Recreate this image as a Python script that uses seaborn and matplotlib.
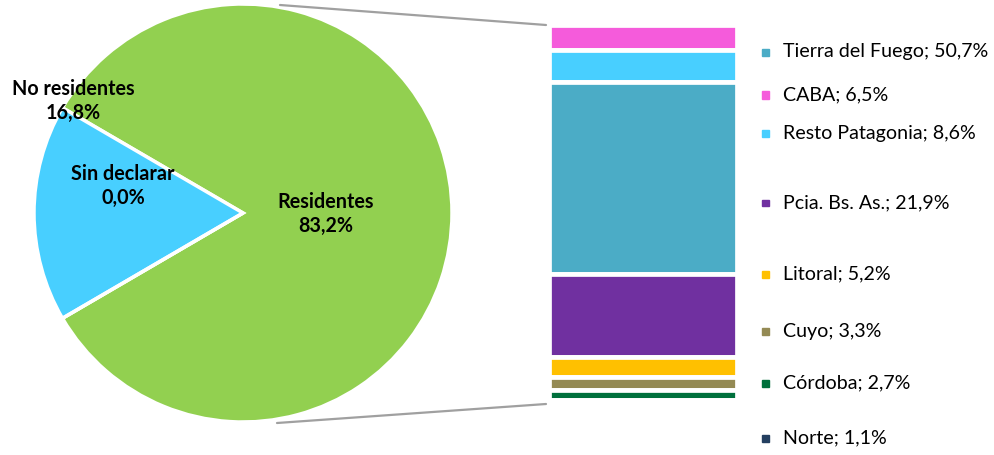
import matplotlib
matplotlib.use("Agg")
import matplotlib.pyplot as plt
from matplotlib.lines import Line2D
import seaborn as sns

# Pie: visitor origin
pie_labels = ["Residentes", "No residentes", "Sin declarar"]
pie_values = [83.2, 16.8, 0.0]
pie_colors = ["#92D050", "#48CFFF", "#9BBB59"]

# Bar: breakdown of residents by region (top to bottom in the bar)
bar_labels = ["CABA", "Resto Patagonia", "Tierra del Fuego", "Pcia. Bs. As.",
              "Litoral", "Cuyo", "Córdoba", "Norte"]
bar_values = [6.5, 8.6, 50.7, 21.9, 5.2, 3.3, 2.7, 1.1]
bar_colors = ["#F55BDB", "#48CFFF", "#4BACC6", "#7030A0",
              "#FFC000", "#948A54", "#00703C", "#243F60"]

# Legend order
legend_labels = ["Tierra del Fuego", "CABA", "Resto Patagonia", "Pcia. Bs. As.",
                 "Litoral", "Cuyo", "Córdoba", "Norte"]
legend_values = [50.7, 6.5, 8.6, 21.9, 5.2, 3.3, 2.7, 1.1]
legend_colors = ["#4BACC6", "#F55BDB", "#48CFFF", "#7030A0",
                 "#FFC000", "#948A54", "#00703C", "#243F60"]

sns.set_theme(style="white")
plt.rcParams["font.family"] = ["Lato", "DejaVu Sans"]

W, H = 994, 455
fig = plt.figure(figsize=(W / 100, H / 100), dpi=100)


def px_axes(x0, y0, x1, y1):
    return fig.add_axes([x0 / W, 1 - y1 / H, (x1 - x0) / W, (y1 - y0) / H])


def fx(x):
    return x / W


def fy(y):
    return 1 - y / H


def pct(v):
    return f"{v:.1f}%".replace(".", ",")


# ---- pie ----
ax_pie = px_axes(34, 4, 452, 422)
ax_pie.pie(pie_values, colors=pie_colors, startangle=210.25, counterclock=True,
           radius=1.0, wedgeprops=dict(edgecolor="white", linewidth=2.5))
ax_pie.set_xlim(-1, 1)
ax_pie.set_ylim(-1, 1)
ax_pie.set_aspect("equal")
ax_pie.axis("off")

label_kw = dict(ha="center", va="center", fontsize=14.2, fontweight="bold",
                color="black", linespacing=1.3)
fig.text(fx(326), fy(214), f"{pie_labels[0]}\n{pct(pie_values[0])}", **label_kw)
fig.text(fx(73), fy(101), f"{pie_labels[1]}\n{pct(pie_values[1])}", **label_kw)
fig.text(fx(123), fy(186), f"{pie_labels[2]}\n{pct(pie_values[2])}", **label_kw)

# ---- stacked bar ----
ax_bar = px_axes(549, 25, 737, 404)
bottom = 0.0
for lab, val, col in zip(bar_labels, bar_values, bar_colors):
    sns.barplot(x=[0], y=[val], bottom=bottom, color=col, width=1.0,
                edgecolor="white", linewidth=3.4, ax=ax_bar, saturation=1)
    bottom += val
ax_bar.set_xlim(-0.5, 0.5)
ax_bar.set_ylim(100, 0)
ax_bar.axis("off")

# ---- connector lines ----
line_kw = dict(color="#A0A0A0", linewidth=1.6, transform=fig.transFigure)
fig.add_artist(Line2D([fx(280), fx(546)], [fy(5), fy(25)], **line_kw))
fig.add_artist(Line2D([fx(277), fx(546)], [fy(423), fy(404)], **line_kw))

# ---- legend ----
legend_y = [52, 95, 133, 203, 274, 331, 383, 438]
for lab, val, col, y in zip(legend_labels, legend_values, legend_colors, legend_y):
    fig.add_artist(plt.Rectangle((fx(762), fy(y + 3.5)), 7 / W, 7 / H,
                                 color=col, transform=fig.transFigure))
    fig.text(fx(783), fy(y), f"{lab}; {pct(val)}", ha="left", va="center",
             fontsize=14.1, color="black")

fig.savefig("out.png", dpi=100)
